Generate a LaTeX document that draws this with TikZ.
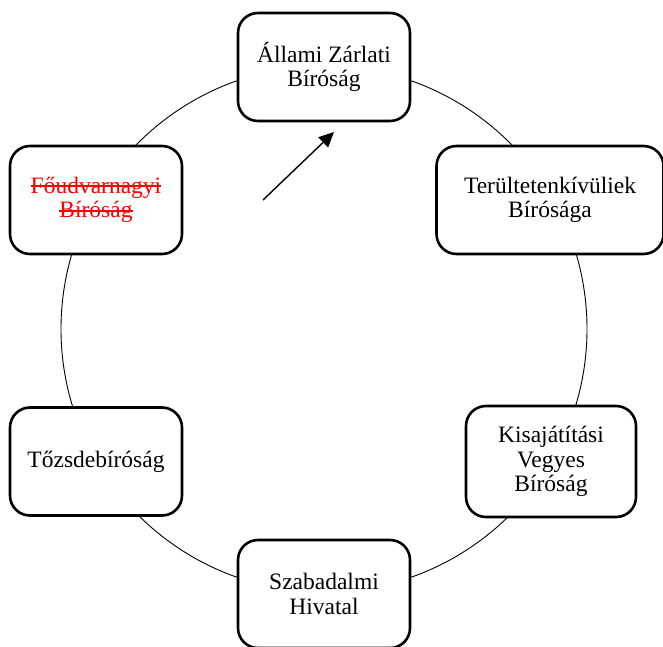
\documentclass[tikz,border=0pt]{standalone}
\usepackage{fontspec}
\setmainfont{Liberation Serif}
\usetikzlibrary{arrows.meta}
\newcommand\strikeit[1]{\setbox0\hbox{#1}\rlap{\rule[0.27em]{\wd0}{0.07em}}\box0}
\tikzset{
  court/.style={draw=black, line width=2.6pt, rounded corners=20pt, fill=white,
    minimum width=172pt, minimum height=108pt, align=center,
    font=\fontsize{23.5pt}{24.5pt}\selectfont},
  ring/.style={draw=black, line width=0.9pt},
  pointer/.style={draw=black, line width=1.4pt, -{Triangle[length=15pt,width=14pt]}}
}
\begin{document}
\begin{tikzpicture}[x=1pt,y=1pt]
\useasboundingbox (0,0) rectangle (663,646);
\coordinate (c) at (324,317);
\draw[ring] (c) circle (263);
\node[court] (top) at (324,579) {Állami Zárlati\\Bíróság};
\node[court, minimum width=227pt] (rt) at (550,446) {Terültetenkívüliek\\Bírósága};
\node[court, minimum width=170pt, minimum height=111pt] (rb) at (551,184.5) {Kisajátítási\\Vegyes\\Bíróság};
\node[court] (bot) at (324,52) {Szabadalmi\\Hivatal};
\node[court] (lb) at (96,184.5) {Tőzsdebíróság};
\node[court, text=red] (lt) at (96,446) {\strikeit{Főudvarnagyi}\\\strikeit{Bíróság}};
\coordinate (a1) at (263,446);
\coordinate (a2) at (334,514);
\draw[pointer] (a1) -- (a2);
\end{tikzpicture}
\end{document}
